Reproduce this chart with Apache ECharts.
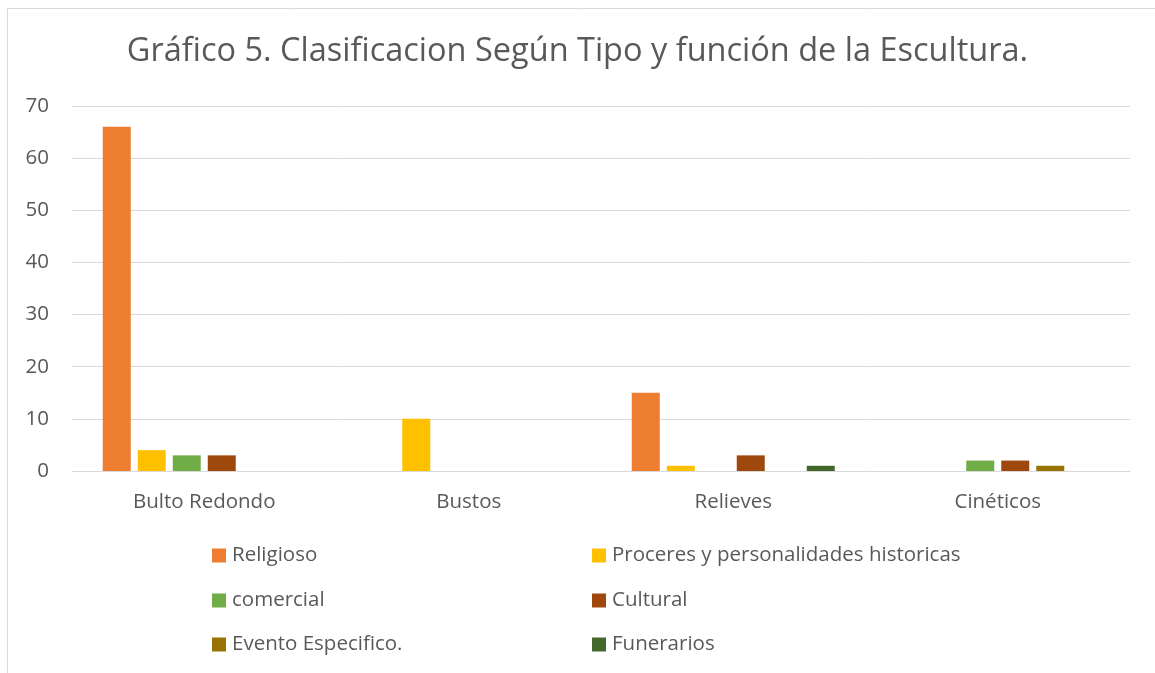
<!DOCTYPE html>
<html>
<head>
<meta charset="utf-8">
<script src="https://cdn.jsdelivr.net/npm/echarts@6/dist/echarts.min.js"></script>
<style>
  html, body { margin: 0; padding: 0; background: #ffffff; }
  #chart { width: 1155px; height: 673px; }
</style>
</head>
<body>
<div id="chart"></div>
<script>
// Sculpture classification by type and function
const categories = ['Bulto Redondo', 'Bustos', 'Relieves', 'Cinéticos'];
const seriesNames = [
  'Religioso',
  'Proceres y personalidades historicas',
  'comercial',
  'Cultural',
  'Evento Especifico.',
  'Funerarios'
];
const religioso = [66, 0, 15, 0];
const proceres = [4, 10, 1, 0];
const comercial = [3, 0, 0, 2];
const cultural = [3, 0, 3, 2];
const evento = [0, 0, 0, 1];
const funerarios = [0, 0, 1, 0];
const yTicks = { min: 0, max: 70, interval: 10 };

const seriesValues = [religioso, proceres, comercial, cultural, evento, funerarios];
const colors = ['#ED7D31', '#FFC000', '#70AD47', '#9E480E', '#997300', '#43682B'];
const FONT = '"Open Sans", "Noto Sans", sans-serif';
const TEXT = '#595959';
const LABEL_SIZE = 20.5;

// Legend laid out as a 2-column, 3-row grid
const legendPos = [
  { left: 212, top: 545 }, { left: 592, top: 545 },
  { left: 212, top: 590 }, { left: 592, top: 590 },
  { left: 212, top: 634 }, { left: 592, top: 634 }
];

const chart = echarts.init(document.getElementById('chart'), null, { renderer: 'canvas' });

chart.setOption({
  backgroundColor: '#ffffff',
  animation: false,
  title: {
    text: 'Gráfico 5. Clasificacion Según Tipo y función de la Escultura.',
    left: 'center',
    top: 35,
    padding: 0,
    textStyle: { fontFamily: FONT, fontSize: 32.5, fontWeight: 'normal', color: TEXT }
  },
  graphic: [
    { type: 'line', shape: { x1: 7.5, y1: 8.5, x2: 1155, y2: 8.5 }, style: { stroke: '#d9d9d9', lineWidth: 1 }, silent: true },
    { type: 'line', shape: { x1: 7.5, y1: 8.5, x2: 7.5, y2: 673 }, style: { stroke: '#d9d9d9', lineWidth: 1 }, silent: true }
  ],
  legend: seriesNames.map((name, i) => ({
    data: [name],
    left: legendPos[i].left,
    top: legendPos[i].top,
    padding: 0,
    icon: 'rect',
    itemWidth: 14,
    itemHeight: 14,
    itemGap: 0,
    selectedMode: false,
    textStyle: { fontFamily: FONT, fontSize: LABEL_SIZE, color: TEXT, padding: [0, 0, 0, 1] }
  })),
  grid: { left: 72, right: 25, top: 106, bottom: 202, containLabel: false },
  xAxis: {
    type: 'category',
    data: categories,
    axisLine: { show: true, lineStyle: { color: '#d9d9d9', width: 1 } },
    axisTick: { show: false },
    axisLabel: { fontFamily: FONT, fontSize: LABEL_SIZE, color: TEXT, margin: 21 }
  },
  yAxis: {
    type: 'value',
    min: yTicks.min,
    max: yTicks.max,
    interval: yTicks.interval,
    axisLine: { show: false },
    axisTick: { show: false },
    splitLine: { lineStyle: { color: '#d9d9d9', width: 1 } },
    axisLabel: { fontFamily: FONT, fontSize: LABEL_SIZE, color: TEXT, margin: 23 }
  },
  series: seriesNames.map((name, i) => ({
    name: name,
    type: 'bar',
    data: seriesValues[i],
    barWidth: 28,
    barGap: '25%',
    itemStyle: { color: colors[i] }
  }))
});
</script>
</body>
</html>
